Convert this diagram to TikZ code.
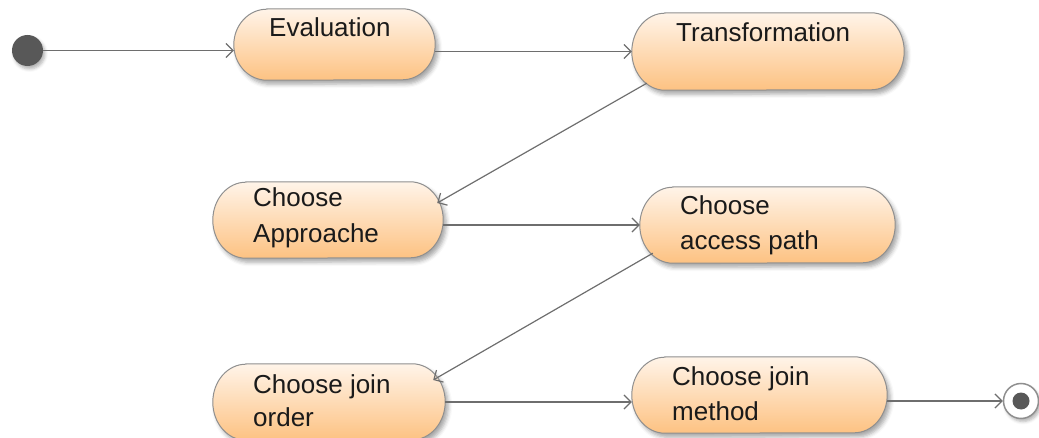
\documentclass[tikz,border=0pt]{standalone}
\usepackage{fontspec}
\setmainfont{Liberation Sans}
\usetikzlibrary{arrows.meta,shadows.blur}
\definecolor{stateTop}{HTML}{FFF4E9}
\definecolor{stateBot}{HTML}{FDC282}
\definecolor{stateLine}{HTML}{8F8F8F}
\definecolor{flowLine}{HTML}{6E6E6E}
\definecolor{dotGray}{HTML}{585858}
\definecolor{ink}{HTML}{1A1A1A}
% horizontal radius of the elliptical state ends
\def\stateRx{33pt}
% outline of a state: straight top and bottom, elliptical ends
\newcommand\stateOutline[2]{%
  \path[state] ([xshift=\stateRx]#1.north west) -- ([xshift=-\stateRx]#1.north east)
    arc[start angle=90, end angle=-90, x radius=\stateRx, y radius=#2]
    -- ([xshift=\stateRx]#1.south west)
    arc[start angle=270, end angle=90, x radius=\stateRx, y radius=#2] -- cycle;}
\begin{document}
\begin{tikzpicture}[x=1pt,y=-1pt,
  state/.style={draw=stateLine, line width=1pt,
    top color=stateTop, bottom color=stateBot,
    blur shadow={shadow xshift=3pt, shadow yshift=-4pt, shadow blur radius=4pt, shadow opacity=35}},
  anchorbox/.style={rectangle, draw=none, inner sep=0pt},
  txt/.style={anchor=base west, font=\fontsize{26}{30}\selectfont, text=ink, inner sep=0pt},
  flow/.style={draw=flowLine, line width=1.2pt, -{Straight Barb[length=7pt,width=14pt]}}
]
\useasboundingbox (0,0) rectangle (1039,438);

% activity states
\node[anchorbox, minimum width=201pt, minimum height=71pt] (ev) at (334.5,44.5) {};
\node[anchorbox, minimum width=272pt, minimum height=77pt] (tr) at (768,51.5) {};
\node[anchorbox, minimum width=230pt, minimum height=76pt] (ap) at (328,220) {};
\node[anchorbox, minimum width=255pt, minimum height=76pt] (ac) at (767.5,225) {};
\node[anchorbox, minimum width=232pt, minimum height=76pt] (jo) at (329,402) {};
\node[anchorbox, minimum width=255pt, minimum height=76pt] (jm) at (759.5,395) {};
\stateOutline{ev}{35.5pt}
\stateOutline{tr}{38.5pt}
\stateOutline{ap}{38pt}
\stateOutline{ac}{38pt}
\stateOutline{jo}{38pt}
\stateOutline{jm}{38pt}

% state texts
\node[txt] (ev-t) at (269,37) {Evaluation};
\node[txt] (tr-t) at (676,42) {Transformation};
\node[txt] (ap-t1) at (253,207) {Choose};
\node[txt] (ap-t2) at (253,243) {Approache};
\node[txt] (ac-t1) at (680,215) {Choose};
\node[txt] (ac-t2) at (680,250) {access path};
\node[txt] (jo-t1) at (253,393) {Choose join};
\node[txt] (jo-t2) at (253,426) {order};
\node[txt] (jm-t1) at (672,385) {Choose join};
\node[txt] (jm-t2) at (672,420) {method};

% initial and final states
\node[circle, fill=dotGray, minimum size=31pt, inner sep=0pt,
  blur shadow={shadow xshift=2pt, shadow yshift=-3pt, shadow blur radius=3pt, shadow opacity=30}] (st) at (27.5,50.5) {};
\node[circle, draw=stateLine, fill=white, line width=1.5pt, minimum size=35pt, inner sep=0pt,
  blur shadow={shadow xshift=2pt, shadow yshift=-3pt, shadow blur radius=3pt, shadow opacity=30}] (en) at (1021,401) {};
\node[circle, fill=dotGray, minimum size=17pt, inner sep=0pt] (en-dot) at (en) {};

% transitions
\draw[flow] (st.east) -- (st.east -| ev.west);
\draw[flow] (ev.east |- tr.west) -- (tr.west);
\draw[flow] ([xshift=15pt,yshift=7pt]tr.south west) -- ([xshift=-6pt,yshift=17pt]ap.east);
\draw[flow] (ap.east |- ac.west) -- (ac.west);
\draw[flow] ([xshift=13pt,yshift=10pt]ac.south west) -- ([xshift=-12pt,yshift=22pt]jo.east);
\draw[flow] (jo.east) -- (jo.east -| jm.west);
\draw[flow] (jm.east |- en.west) -- (en.west);
\end{tikzpicture}
\end{document}
